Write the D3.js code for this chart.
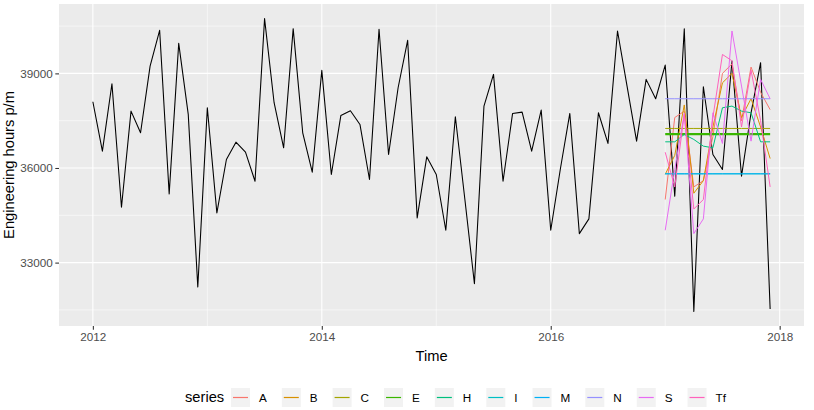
<!DOCTYPE html>
<html><head><meta charset="utf-8">
<script src="https://cdn.jsdelivr.net/npm/d3@7"></script>
<style>body{margin:0;background:#fff}svg{display:block;font-family:"Liberation Sans",Arial,sans-serif}</style>
</head><body><svg id="c" width="814" height="410"></svg>
<script>
// ---- data ----
const startYear = 2012;
const actualValues = [
  38100,36534,38672,34756,37803,37117,39232,40365,35180,39952,37700,32228,
  37910,34577,36270,36820,36502,35581,40736,38070,36640,40418,37117,35867,
  39095,35793,37667,37815,37381,35635,40397,36428,38545,40048,34418,36355,
  35793,34025,37624,35000,32333,37963,38968,35581,37730,37772,36534,37835,
  34025,35952,37730,33920,34386,37751,36778,40344,38598,36852,38810,38196,
  39265,35105,40418,31454,38577,36428,35952,39392,35740,37751,39339,31529
];
const forecastStart = 2017;
const seriesNames = ["A","B","C","E","H","I","M","N","S","Tf"];
const seriesColors = ["#F8766D","#D89000","#A3A500","#39B600","#00BF7D","#00BFC4","#00B0F6","#9590FF","#E76BF3","#FF62BC"];
const fcA  = [35000,37600,37800,35400,35600,37000,39000,39300,37500,39200,38400,37850];
const fcB  = [35800,36400,38000,35200,35600,37300,38700,39000,37600,38200,37300,36300];
const fcC  = [37254,37254,37254,37254,37254,37254,37254,37254,37254,37254,37254,37254];
const fcE  = [37073,37073,37073,37073,37073,37073,37073,37073,37073,37073,37073,37073];
const fcH  = [36830,36830,37064,36905,36693,36640,37910,37963,37804,37751,36830,36830];
const fcI  = [35816,35816,35816,35816,35816,35816,35816,35816,35816,35816,35816,35816];
const fcM  = [35816,35816,35816,35816,35816,35816,35816,35816,35816,35816,35816,35816];
const fcN  = [38196,38196,38196,38196,38196,38196,38196,38196,38196,38196,38196,38196];
const fcS  = [34025,35952,37730,33920,34386,37751,36778,40344,38598,36852,38810,38196];
const fcTf = [36500,35400,37700,34700,35000,37600,39600,39400,37300,39100,37500,35400];
const forecastValues = [fcA,fcB,fcC,fcE,fcH,fcI,fcM,fcN,fcS,fcTf];
const xTickLabels = ["2012","2014","2016","2018"];
const yTickValues = [33000,36000,39000];

// ---- layout ----
const svg = d3.select("#c");
const P = {l:59, r:804, t:4, b:326};
const actual = actualValues.map((v,i)=>({t:startYear+i/12, v}));
const fcs = forecastValues.map((arr,k)=>({name:seriesNames[k], color:seriesColors[k],
  pts:arr.map((v,j)=>({t:forecastStart+j/12, v}))}));
const allT = actual.map(d=>d.t).concat(...fcs.map(f=>f.pts.map(d=>d.t)));
const allV = actual.map(d=>d.v).concat(...fcs.map(f=>f.pts.map(d=>d.v)));
const ex = (lo,hi)=>{const p=(hi-lo)*0.05;return [lo-p,hi+p];};
const x = d3.scaleLinear().domain(ex(d3.min(allT),d3.max(allT))).range([P.l,P.r]);
const y = d3.scaleLinear().domain(ex(d3.min(allV),d3.max(allV))).range([P.b,P.t]);

svg.append("rect").attr("x",P.l).attr("y",P.t).attr("width",P.r-P.l).attr("height",P.b-P.t).attr("fill","#EBEBEB");
const xMajor = xTickLabels.map(Number);
const xMinor = xMajor.slice(0,-1).map(v=>v+1);
const yMinor = [31500,34500,37500,40500];
const g = svg.append("g");
xMinor.forEach(v=>g.append("line").attr("x1",x(v)).attr("x2",x(v)).attr("y1",P.t).attr("y2",P.b).style("stroke","#fff").attr("stroke-width",0.55));
yMinor.forEach(v=>g.append("line").attr("y1",y(v)).attr("y2",y(v)).attr("x1",P.l).attr("x2",P.r).style("stroke","#fff").attr("stroke-width",0.55));
xMajor.forEach(v=>g.append("line").attr("x1",x(v)).attr("x2",x(v)).attr("y1",P.t).attr("y2",P.b).style("stroke","#fff").attr("stroke-width",1.1));
yTickValues.forEach(v=>g.append("line").attr("y1",y(v)).attr("y2",y(v)).attr("x1",P.l).attr("x2",P.r).style("stroke","#fff").attr("stroke-width",1.1));

// axes
const xAxis = d3.axisBottom(x).tickValues(xMajor).tickFormat((d,i)=>xTickLabels[i]).tickSizeInner(3.7).tickSizeOuter(0).tickPadding(2.5);
const xa = svg.append("g").attr("transform",`translate(0,${P.b})`).call(xAxis);
xa.select(".domain").remove();
xa.selectAll("line").attr("stroke","#333").attr("stroke-width",1.07);
xa.selectAll("text").attr("fill","#4D4D4D").style("font-size","11.7px").style("font-family","Liberation Sans, Arial, sans-serif");
const yAxis = d3.axisLeft(y).tickValues(yTickValues).tickFormat(d3.format("d")).tickSizeInner(3.7).tickSizeOuter(0).tickPadding(2.5);
const ya = svg.append("g").attr("transform",`translate(${P.l},0)`).call(yAxis);
ya.select(".domain").remove();
ya.selectAll("line").attr("stroke","#333").attr("stroke-width",1.07);
ya.selectAll("text").attr("fill","#4D4D4D").style("font-size","11.7px").style("font-family","Liberation Sans, Arial, sans-serif");

svg.append("text").attr("x",(P.l+P.r)/2).attr("y",361).attr("text-anchor","middle").style("font-size","14.7px").text("Time");
svg.append("text").attr("transform",`translate(14,${(P.t+P.b)/2}) rotate(-90)`).attr("text-anchor","middle").style("font-size","14.7px").text("Engineering hours p/m");

// lines
const line = d3.line().x(d=>x(d.t)).y(d=>y(d.v));
svg.append("path").datum(actual).attr("d",line).attr("fill","none").style("stroke","#000").attr("stroke-width",1.07).attr("stroke-linejoin","round");
fcs.forEach(f=>{
  svg.append("path").datum(f.pts).attr("d",line).attr("fill","none").style("stroke",f.color)
    .attr("stroke-width",f.name==="E"?2.2:1.0).attr("stroke-linejoin","round");
});

// legend
const lg = svg.append("g");
lg.append("text").attr("x",185).attr("y",402).style("font-size","14.7px").text("series");
const tmp = svg.append("text").style("font-size","11.7px");
let cx = 231;
seriesNames.forEach((n,k)=>{
  lg.append("rect").attr("x",cx).attr("y",388).attr("width",19).attr("height",19).style("fill","#F2F2F2");
  lg.append("rect").attr("x",cx+2).attr("y",396.9).attr("width",15).attr("height",1.2).style("fill",seriesColors[k]);
  lg.append("text").attr("x",cx+19+9).attr("y",401.5).style("font-size","11.7px").text(n);
  tmp.text(n); const w = tmp.node().getComputedTextLength();
  cx += 19+9+w+15;
});
tmp.remove();
</script></body></html>
